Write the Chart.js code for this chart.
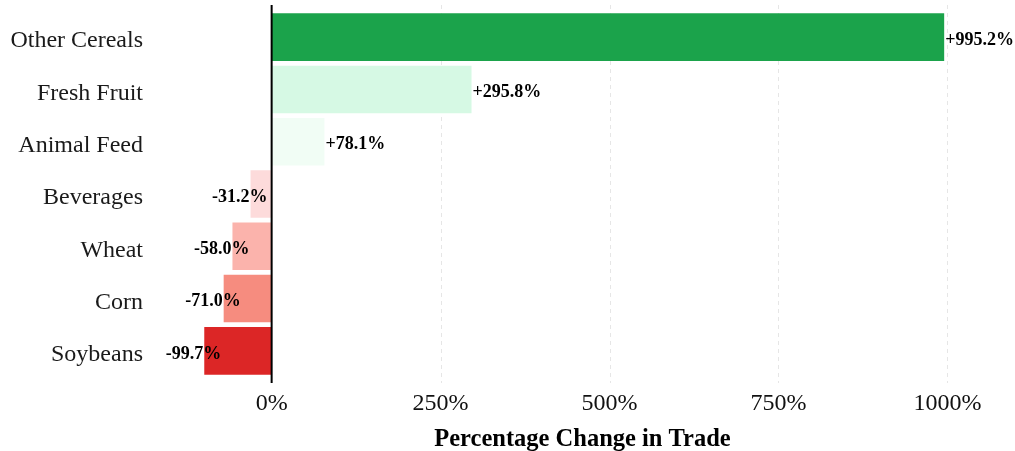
<!DOCTYPE html>
<html>
<head>
<meta charset="utf-8">
<script src="https://cdn.jsdelivr.net/npm/chart.js@4.4.1/dist/chart.umd.min.js"></script>
<style>
    html, body { margin: 0; padding: 0; background: #ffffff; }
    #wrap { width: 1015px; height: 451px; }
</style>
</head>
<body>
<div id="wrap"><canvas id="tradeChart"></canvas></div>
<script>
// Data
const categories = ['Other Cereals', 'Fresh Fruit', 'Animal Feed', 'Beverages', 'Wheat', 'Corn', 'Soybeans'];
const changeValues = [995.2, 295.8, 78.1, -31.2, -58.0, -71.0, -99.7];
const barColors = ['#1ba34b', '#d6f9e4', '#f1fdf5', '#fddbdb', '#fbb3ac', '#f68c7f', '#dc2626'];
const tickValues = [0, 250, 500, 750, 1000];

const serif = '"Liberation Serif", "Times New Roman", serif';

// Dashed grid lines + black zero line, a little taller than the plot area
const gridPlugin = {
    id: 'gridLines',
    beforeDatasetsDraw(chart) {
        const { ctx, chartArea, scales } = chart;
        const top = chartArea.top - 6;
        const bottom = chartArea.bottom + 6;
        ctx.save();
        ctx.strokeStyle = '#e6e6e6';
        ctx.lineWidth = 1;
        ctx.setLineDash([4, 4]);
        tickValues.forEach(v => {
            if (v === 0) return;
            const x = Math.round(scales.x.getPixelForValue(v)) + 0.5;
            ctx.beginPath();
            ctx.moveTo(x, top);
            ctx.lineTo(x, bottom);
            ctx.stroke();
        });
        ctx.restore();
    },
    afterDatasetsDraw(chart) {
        const { ctx, chartArea, scales } = chart;
        const x = scales.x.getPixelForValue(0);
        ctx.save();
        ctx.strokeStyle = '#000000';
        ctx.lineWidth = 2;
        ctx.beginPath();
        ctx.moveTo(x, chartArea.top - 6);
        ctx.lineTo(x, chartArea.bottom + 6);
        ctx.stroke();
        ctx.restore();
    }
};

// Value labels next to each bar
const valueLabels = {
    id: 'valueLabels',
    afterDatasetsDraw(chart) {
        const { ctx } = chart;
        const meta = chart.getDatasetMeta(0);
        ctx.save();
        ctx.font = 'bold 18px ' + serif;
        ctx.fillStyle = '#000000';
        ctx.textBaseline = 'middle';
        meta.data.forEach((bar, i) => {
            const v = changeValues[i];
            const text = (v >= 0 ? '+' : '') + v.toFixed(1) + '%';
            if (v >= 0) {
                ctx.textAlign = 'left';
                ctx.fillText(text, bar.x + 1, bar.y + 3);
            } else {
                ctx.textAlign = 'right';
                ctx.fillText(text, bar.x + 17, bar.y + 3);
            }
        });
        ctx.restore();
    }
};

new Chart(document.getElementById('tradeChart'), {
    type: 'bar',
    data: {
        labels: categories,
        datasets: [{
            data: changeValues,
            backgroundColor: barColors,
            borderWidth: 0,
            categoryPercentage: 1.0,
            barPercentage: 0.91
        }]
    },
    options: {
        indexAxis: 'y',
        responsive: true,
        maintainAspectRatio: false,
        animation: false,
        layout: { padding: { top: 11, right: 0, left: 0, bottom: 0 } },
        plugins: {
            legend: { display: false },
            tooltip: { enabled: false }
        },
        scales: {
            x: {
                min: -180,
                max: 1100,
                afterBuildTicks(scale) {
                    scale.ticks = tickValues.map(v => ({ value: v }));
                },
                afterFit(scale) { scale.height = 74; },
                grid: { display: false, drawTicks: false },
                border: { display: false },
                ticks: {
                    padding: 12,
                    color: '#111111',
                    font: { family: serif, size: 24 },
                    callback: v => v + '%'
                },
                title: {
                    display: true,
                    text: 'Percentage Change in Trade',
                    color: '#000000',
                    font: { family: serif, size: 24.5, weight: 'bold' },
                    padding: { top: 0, bottom: -3 }
                }
            },
            y: {
                afterFit(scale) {
                    scale.width = 150;
                    scale.paddingTop = 0;
                    scale.paddingBottom = 0;
                },
                grid: { display: false, drawTicks: false },
                border: { display: false },
                ticks: {
                    padding: 7,
                    labelOffset: 4,
                    color: '#1a1a1a',
                    font: { family: serif, size: 24 }
                }
            }
        }
    },
    plugins: [gridPlugin, valueLabels]
});
</script>
</body>
</html>
